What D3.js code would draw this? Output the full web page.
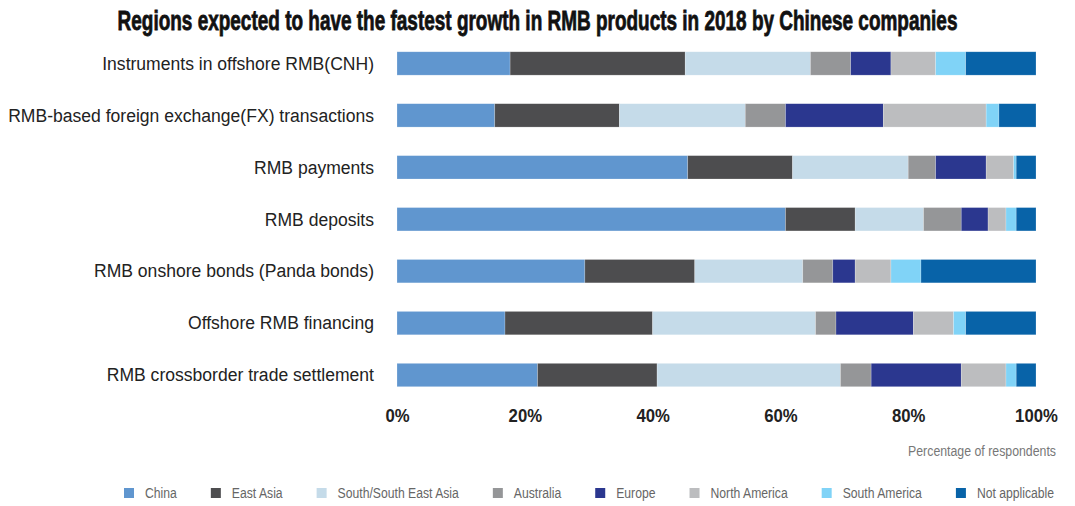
<!DOCTYPE html>
<html>
<head>
<meta charset="utf-8">
<script src="https://cdn.jsdelivr.net/npm/d3@7"></script>
<style>
  body { margin: 0; background: #fff; }
  text { font-family: "Liberation Sans", Arial, sans-serif; }
</style>
</head>
<body>
<div id="canvas"></div>
<script>
// chart data (percent of respondents)
var categories = [
  'Instruments in offshore RMB(CNH)',
  'RMB-based foreign exchange(FX) transactions',
  'RMB payments',
  'RMB deposits',
  'RMB onshore bonds (Panda bonds)',
  'Offshore RMB financing',
  'RMB crossborder trade settlement'
];
var regions = ['China', 'East Asia', 'South/South East Asia', 'Australia', 'Europe', 'North America', 'South America', 'Not applicable'];
var china         = [17.7, 15.3, 45.5, 60.8, 29.4, 16.9, 22.0];
var eastAsia      = [27.4, 19.5, 16.4, 10.9, 17.2, 23.1, 18.7];
var southEastAsia = [19.6, 19.7, 18.1, 10.7, 16.9, 25.5, 28.7];
var australia     = [6.3, 6.3, 4.3, 5.9, 4.7, 3.2, 4.8];
var europe        = [6.3, 15.3, 7.9, 4.2, 3.5, 12.1, 14.1];
var northAmerica  = [7.0, 16.1, 4.3, 2.8, 5.6, 6.3, 7.0];
var southAmerica  = [4.7, 2.0, 0.4, 1.6, 4.7, 1.9, 1.6];
var notApplicable = [11.0, 5.8, 3.1, 3.1, 18.0, 11.0, 3.1];
var tickValues = [0, 20, 40, 60, 80, 100];

var colors = ['#6096cf', '#4d4d4f', '#c5dbe9', '#959698', '#2b378f', '#bcbdbf', '#80d3f7', '#0863a8'];

var W = 1075, H = 506;
var m = {t: 37.5, r: 39, b: 105, l: 397};

var svg = d3.select('#canvas').append('svg')
    .attr('width', W)
    .attr('height', H);

// squeeze a text horizontally, the original uses a condensed face
function condense(sel, k){
    sel.each(function(){
        var n = this;
        d3.select(n)
          .attr('textLength', n.getComputedTextLength() * k)
          .attr('lengthAdjust', 'spacingAndGlyphs');
    });
}

// build rows for the stack
var seriesVals = [china, eastAsia, southEastAsia, australia, europe, northAmerica, southAmerica, notApplicable];
var rows = categories.map(function(c, i){
    var r = {category: c};
    regions.forEach(function(g, j){ r[g] = seriesVals[j][i]; });
    return r;
});
var stacked = d3.stack().keys(regions)(rows);

var scaleX = d3.scaleLinear().domain([0, 100]).range([m.l, W - m.r]);
var scaleY = d3.scaleBand().domain(categories)
    .range([m.t, H - m.b])
    .paddingInner(0.55)
    .paddingOuter(0.275);
var color = d3.scaleOrdinal().domain(regions).range(colors);

// title, squeezed to the width of the original with a transform
var titleG = svg.append('g');
var title = titleG.append('text')
    .attr('x', 0)
    .attr('y', 0)
    .attr('text-anchor', 'middle')
    .style('font-size', '27px')
    .style('font-weight', 'bold')
    .style('fill', '#111')
    .style('stroke', '#111')
    .style('stroke-width', 0.8)
    .text('Regions expected to have the fastest growth in RMB products in 2018 by Chinese companies');
var tw = title.node().getComputedTextLength();
titleG.attr('transform', 'translate(' + (W / 2) + ',30) scale(' + (840 / tw) + ',1)');

// bars
svg.append('g').selectAll('g.series')
    .data(stacked)
    .enter().append('g')
    .attr('class', 'series')
    .attr('fill', function(d){ return color(d.key); })
    .selectAll('rect')
    .data(function(d){ return d; })
    .enter().append('rect')
    .attr('x', function(d){ return scaleX(d[0]); })
    .attr('y', function(d){ return scaleY(d.data.category); })
    .attr('width', function(d){ return scaleX(d[1]) - scaleX(d[0]); })
    .attr('height', scaleY.bandwidth())
    .attr('stroke', '#ffffff')
    .attr('stroke-opacity', 0.35)
    .attr('stroke-width', 0.6);

// category labels
svg.append('g').selectAll('text')
    .data(categories)
    .enter().append('text')
    .attr('x', 374)
    .attr('y', function(d){ return scaleY(d) + scaleY.bandwidth() / 2; })
    .attr('dy', '0.35em')
    .attr('text-anchor', 'end')
    .style('font-size', '18px')
    .style('fill', '#222')
    .text(function(d){ return d; })
    .call(condense, 0.975);

// x axis (labels only)
var axisX = d3.axisBottom(scaleX)
    .tickValues(tickValues)
    .tickSize(0)
    .tickPadding(0)
    .tickFormat(function(d){ return d + '%'; });

var gx = svg.append('g')
    .attr('class', 'axis axis-x')
    .attr('transform', 'translate(0,' + 408 + ')')
    .call(axisX);
gx.select('.domain').remove();
gx.selectAll('text')
    .style('font-family', '"Liberation Sans", Arial, sans-serif')
    .style('font-size', '19px')
    .style('font-weight', 'bold')
    .style('fill', '#222')
    .call(condense, 0.88);

svg.append('text')
    .attr('x', 1056)
    .attr('y', 456)
    .attr('text-anchor', 'end')
    .style('font-size', '14px')
    .style('fill', '#777')
    .text('Percentage of respondents')
    .call(condense, 0.88);

// legend
var legend = svg.append('g').attr('class', 'legend');
var lx = 124;
regions.forEach(function(g){
    var item = legend.append('g').attr('transform', 'translate(' + lx + ',0)');
    item.append('rect')
        .attr('x', 0)
        .attr('y', 488)
        .attr('width', 10)
        .attr('height', 10)
        .attr('fill', color(g));
    var t = item.append('text')
        .attr('x', 21)
        .attr('y', 498)
        .style('font-size', '14px')
        .style('fill', '#666')
        .text(g);
    var w = t.node().getComputedTextLength() * 0.87;
    t.attr('textLength', w).attr('lengthAdjust', 'spacingAndGlyphs');
    lx += 21 + w + 34;
});
</script>
</body>
</html>
